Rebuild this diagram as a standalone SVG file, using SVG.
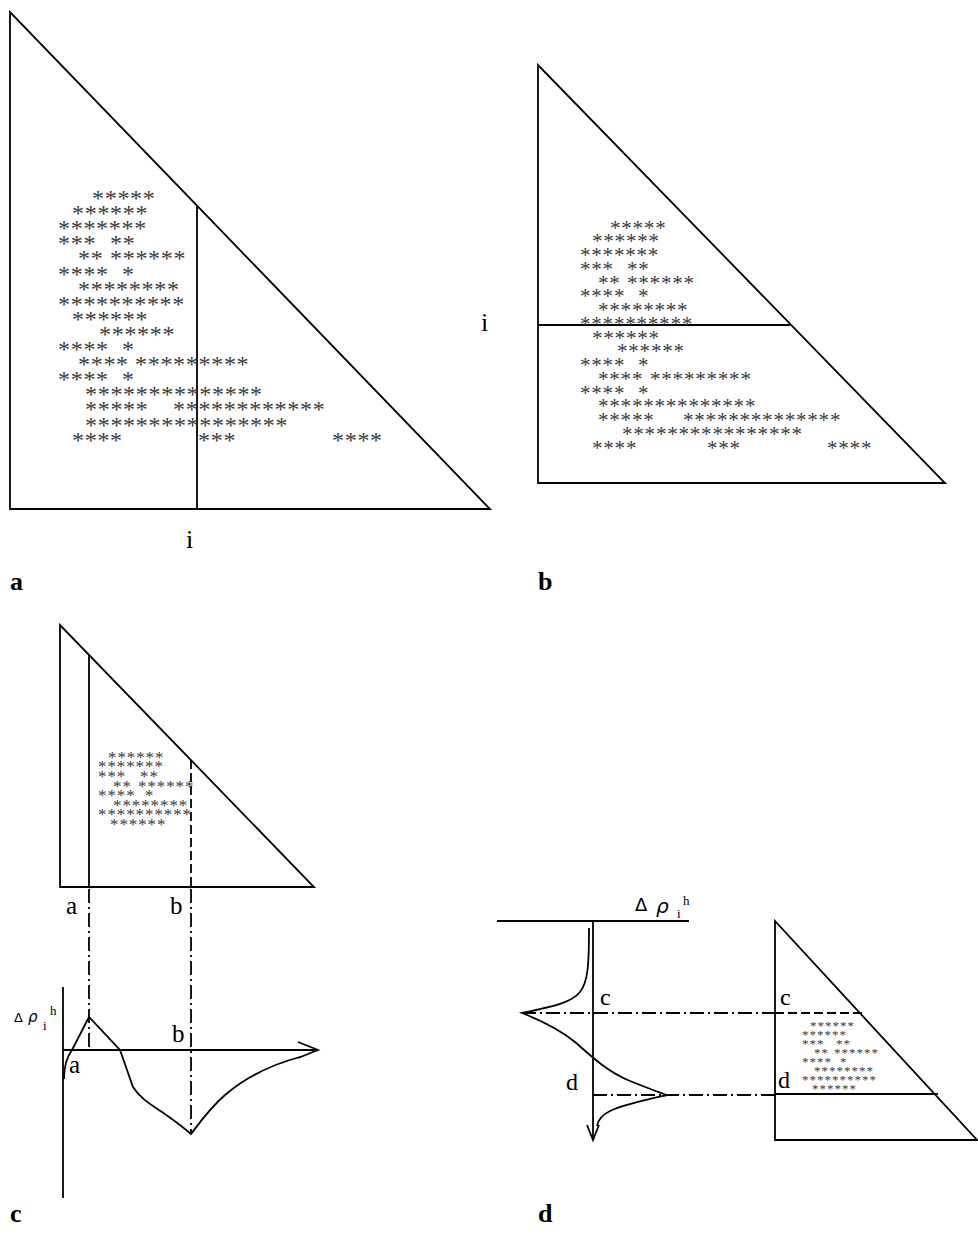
<svg xmlns="http://www.w3.org/2000/svg" width="978" height="1247" viewBox="0 0 978 1247">
<style>
.ln{stroke:#000;stroke-width:1.8;fill:none;stroke-linejoin:miter}
.dash{stroke-dasharray:9 4}
.dd{stroke-dasharray:14 4 2 4}
.ast{font-family:"Liberation Serif",serif;fill:#3a3a3a}
.aa{font-size:24px;letter-spacing:0.7px}
.ab{font-size:21px;letter-spacing:0.8px}
.ac{font-size:17px;letter-spacing:0.9px}
.ad{font-size:13px;letter-spacing:1px}
.lbl{font-family:"Liberation Serif",serif;fill:#000}
.pl{font-family:"Liberation Serif",serif;font-weight:bold;font-size:26px;fill:#000}
.gr{font-family:"DejaVu Sans",sans-serif;fill:#000}
</style>
<rect width="978" height="1247" fill="#fff"/>

<g id="panel-a">
<polygon class="ln" points="10,12 10,509 490,509"/>
<line class="ln" x1="197" y1="206" x2="197" y2="509"/>
<text class="lbl" x="186" y="548" font-size="26">i</text>
<text class="pl" x="10" y="590">a</text>
<g class="ast aa">
<text x="92" y="206">*****</text>
<text x="72" y="221">******</text>
<text x="58" y="236">*******</text>
<text x="58" y="251">***</text><text x="110" y="251">**</text>
<text x="78" y="266">**</text><text x="110" y="266">******</text>
<text x="58" y="282">****</text><text x="122" y="282">*</text>
<text x="78" y="297">********</text>
<text x="58" y="312">**********</text>
<text x="72" y="327">******</text>
<text x="99" y="342">******</text>
<text x="58" y="357">****</text><text x="122" y="357">*</text>
<text x="78" y="372">****</text><text x="135" y="372">*********</text>
<text x="58" y="387">****</text><text x="122" y="387">*</text>
<text x="85" y="402">**************</text>
<text x="85" y="417">*****</text><text x="173" y="417">************</text>
<text x="85" y="433">****************</text>
<text x="72" y="448">****</text><text x="198" y="448">***</text><text x="332" y="448">****</text>
</g>
</g>

<g id="panel-b">
<polygon class="ln" points="538,65 538,483 945,483"/>
<line class="ln" x1="538" y1="325" x2="791" y2="325"/>
<text class="lbl" x="481" y="331" font-size="26">i</text>
<text class="pl" x="538" y="590">b</text>
<g class="ast ab">
<text x="610" y="235">*****</text>
<text x="592" y="248">******</text>
<text x="580" y="262">*******</text>
<text x="580" y="276">***</text><text x="627" y="276">**</text>
<text x="598" y="290">**</text><text x="627" y="290">******</text>
<text x="580" y="303">****</text><text x="638" y="303">*</text>
<text x="598" y="317">********</text>
<text x="580" y="331">**********</text>
<text x="592" y="345">******</text>
<text x="617" y="358">******</text>
<text x="580" y="372">****</text><text x="638" y="372">*</text>
<text x="598" y="386">****</text><text x="650" y="386">*********</text>
<text x="580" y="400">****</text><text x="638" y="400">*</text>
<text x="598" y="413">**************</text>
<text x="598" y="427">*****</text><text x="683" y="427">**************</text>
<text x="622" y="441">****************</text>
<text x="592" y="455">****</text><text x="707" y="455">***</text><text x="827" y="455">****</text>
</g>
</g>

<g id="panel-c">
<polygon class="ln" points="60,625 60,887 314,887"/>
<line class="ln" x1="89" y1="655" x2="89" y2="887"/>
<line class="ln dash" x1="191" y1="760" x2="191" y2="887"/>
<text class="lbl" x="66" y="914" font-size="25">a</text>
<text class="lbl" x="170" y="914" font-size="25">b</text>
<g class="ast ac">
<text x="108" y="763">******</text>
<text x="98" y="772">*******</text>
<text x="98" y="782">***</text><text x="140" y="782">**</text>
<text x="113" y="792">**</text><text x="138" y="792">******</text>
<text x="98" y="801">****</text><text x="145" y="801">*</text>
<text x="113" y="811">********</text>
<text x="98" y="820">**********</text>
<text x="110" y="830">******</text>
</g>
<line class="ln dd" x1="89" y1="889" x2="89" y2="1050"/>
<line class="ln dd" x1="191" y1="889" x2="191" y2="1134"/>
<line class="ln" x1="63" y1="987" x2="63" y2="1198"/>
<line class="ln" x1="63" y1="1050" x2="318" y2="1050"/>
<polyline class="ln" points="298,1042 318,1050 298,1058"/>
<path class="ln" d="M64,1079 C64,1068 66,1058 72,1050 L89,1017 L120,1050 L133,1087 C140,1098 150,1104 162,1112 C175,1121 184,1128 191,1134 C200,1122 210,1108 225,1095 C245,1078 270,1065 300,1057"/>
<text class="lbl" x="172" y="1042" font-size="25">b</text>
<text class="lbl" x="69" y="1073" font-size="25">a</text>
<text class="gr" x="14" y="1022" font-size="13">Δ</text>
<text class="gr" x="28" y="1022" font-size="15" font-style="italic">ρ</text>
<text class="lbl" x="43" y="1030" font-size="13">i</text>
<text class="lbl" x="50" y="1015" font-size="13">h</text>
<text class="pl" x="10" y="1222">c</text>
</g>

<g id="panel-d">
<line class="ln" x1="497" y1="921" x2="689" y2="921"/>
<text class="gr" x="635" y="911" font-size="18">Δ</text>
<text class="gr" x="656" y="913" font-size="20" font-style="italic">ρ</text>
<text class="lbl" x="677" y="918" font-size="13">i</text>
<text class="lbl" x="683" y="905" font-size="13">h</text>
<line class="ln" x1="593" y1="921" x2="593" y2="1140"/>
<polyline class="ln" points="587,1125 593,1140 599,1125"/>
<path class="ln" d="M589,928 C589,965 588,982 580,992 C572,1002 556,1006 522,1013 C545,1022 560,1030 575,1042 C592,1057 608,1072 630,1081 C645,1087 655,1091 667,1095 C645,1100 622,1105 610,1111 C602,1115 598,1120 597,1126"/>
<line class="ln dd" x1="522" y1="1013" x2="775" y2="1013"/>
<line class="ln dash" x1="775" y1="1013" x2="862" y2="1013"/>
<line class="ln dd" x1="593" y1="1095" x2="775" y2="1095"/>
<line class="ln" x1="775" y1="1094" x2="938" y2="1094"/>
<polygon class="ln" points="775,921 775,1140 977,1140"/>
<text class="lbl" x="600" y="1005" font-size="24">c</text>
<text class="lbl" x="566" y="1090" font-size="24">d</text>
<text class="lbl" x="780" y="1005" font-size="24">c</text>
<text class="lbl" x="778" y="1088" font-size="24">d</text>
<g class="ast ad">
<text x="810" y="1030">******</text>
<text x="802" y="1039">******</text>
<text x="802" y="1048">***</text><text x="836" y="1048">**</text>
<text x="814" y="1057">**</text><text x="834" y="1057">******</text>
<text x="802" y="1066">****</text><text x="840" y="1066">*</text>
<text x="814" y="1075">********</text>
<text x="802" y="1084">**********</text>
<text x="812" y="1093">******</text>
</g>
<text class="pl" x="538" y="1222">d</text>
</g>
</svg>
